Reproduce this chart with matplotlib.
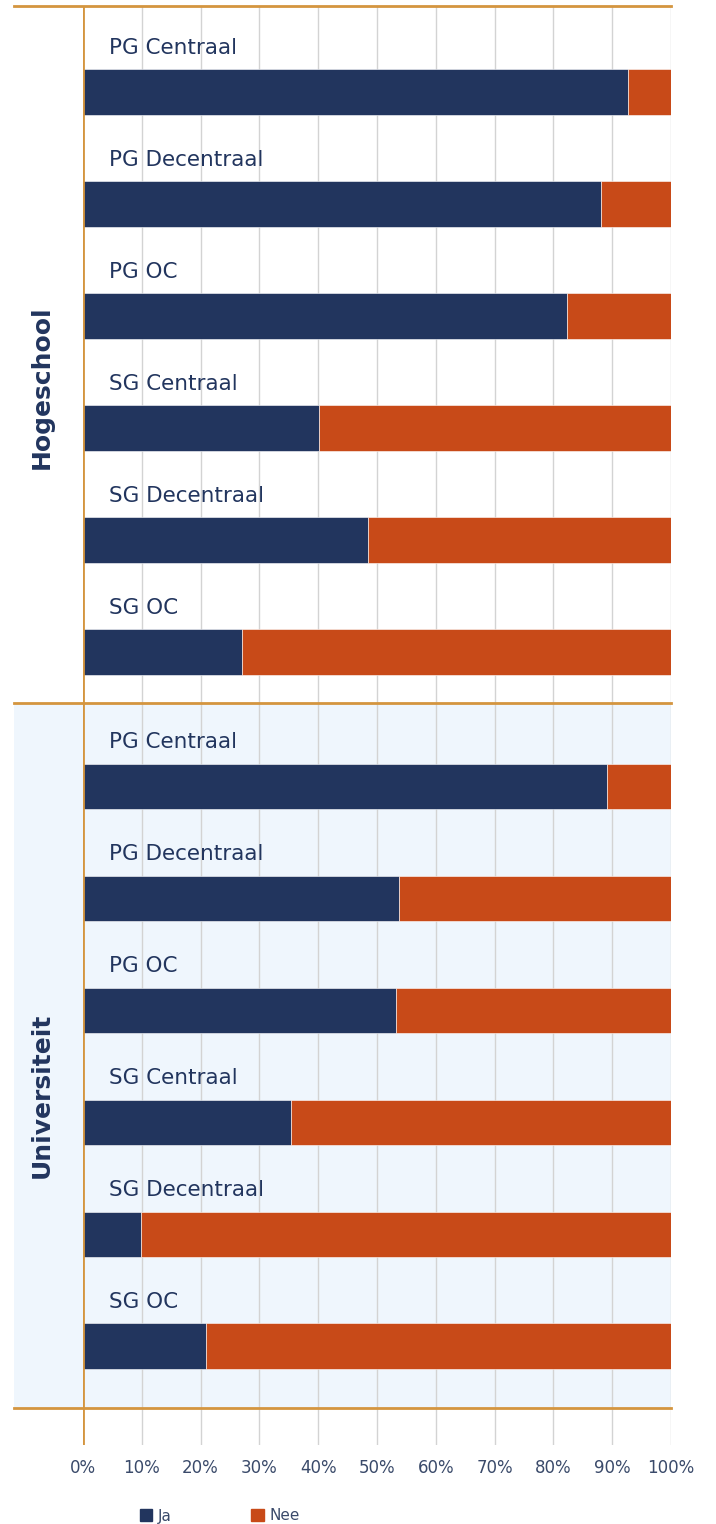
import matplotlib
matplotlib.use('Agg')
import matplotlib.pyplot as plt
from matplotlib.patches import Rectangle
from matplotlib.transforms import blended_transform_factory
import numpy as np

plt.rcParams['font.family'] = ['DejaVu Sans']

groups = ['Hogeschool', 'Universiteit']
categories = ['PG Centraal', 'PG Decentraal', 'PG OC',
              'SG Centraal', 'SG Decentraal', 'SG OC']
# share "Ja" in percent, per group
ja_hogeschool = [92.7, 88.1, 82.3, 40.1, 48.5, 27.0]
ja_universiteit = [89.1, 53.7, 53.2, 35.4, 9.9, 20.9]
ticks = list(range(0, 101, 10))
tick_labels = [f'{t}%' for t in ticks]

navy = '#22355E'
orange = '#C84A18'
gold = '#D4953F'
text_col = '#22355E'

fig = plt.figure(figsize=(7.16, 15.24), dpi=100)
ax = fig.add_axes([83 / 716, 1 - 1445 / 1524, 588 / 716, 1439 / 1524])

gap = 1.2
bar_h = 0.41
pos_h = np.arange(6)
pos_u = np.arange(6) + 6 + gap - 1

# background for the second group
trans = blended_transform_factory(ax.transAxes, ax.transData)
sep = 5 + gap / 2 - 0.145
bottom_line = pos_u[-1] + 0.55
ax.add_patch(Rectangle((-69 / 588, sep), 1 + 69 / 588, bottom_line - sep,
                       transform=trans, facecolor='#EFF6FD', edgecolor='none',
                       clip_on=False, zorder=0))

for pos, ja in [(pos_h, ja_hogeschool), (pos_u, ja_universiteit)]:
    ja = np.array(ja)
    nee = 100 - ja
    ax.barh(pos, ja, height=bar_h, color=navy, edgecolor='white', linewidth=0.4, zorder=3)
    ax.barh(pos, nee, left=ja, height=bar_h, color=orange, edgecolor='white', linewidth=0.4, zorder=3)
    for p, c in zip(pos, categories):
        ax.text(4.4, p - bar_h / 2 - 0.1, c, fontsize=15.5, color=text_col,
                ha='left', va='bottom', zorder=4)

top_line = pos_h[0] - 0.77
for y in [top_line, sep, bottom_line]:
    ax.plot([-69 / 588, 1], [y, y], transform=trans, color=gold, lw=2,
            clip_on=False, zorder=5)
ax.axvline(0, color=gold, lw=2, zorder=5)

ax.text(-41 / 588, (pos_h[0] + pos_h[-1]) / 2 + 0.13, groups[0], transform=trans,
        rotation=90, ha='center', va='center', fontsize=18, fontweight='bold',
        color=text_col)
ax.text(-41 / 588, (pos_u[0] + pos_u[-1]) / 2 + 0.26, groups[1], transform=trans,
        rotation=90, ha='center', va='center', fontsize=18, fontweight='bold',
        color=text_col)

ax.set_xlim(0, 100)
ax.set_ylim(pos_u[-1] + 0.88, top_line)
ax.set_xticks(ticks)
ax.set_xticklabels(tick_labels, fontsize=12, color='#3A4A6A')
ax.set_yticks([])
ax.tick_params(axis='x', length=0, pad=10)
ax.grid(axis='x', color='#D3D3D3', lw=1, zorder=1)
ax.set_axisbelow(True)
for s in ax.spines.values():
    s.set_visible(False)
ax.patch.set_alpha(0)

handles = [Rectangle((0, 0), 1, 1, color=navy), Rectangle((0, 0), 1, 1, color=orange)]
fig.legend(handles, ['Ja', 'Nee'], loc='center left', bbox_to_anchor=(126 / 716, 1 - 1516 / 1524),
           ncol=2, frameon=False, fontsize=11, handlelength=0.8, handleheight=0.8,
           handletextpad=0.4, columnspacing=5.2, labelcolor='#3A4A6A')

plt.savefig('out.png', dpi=100)
